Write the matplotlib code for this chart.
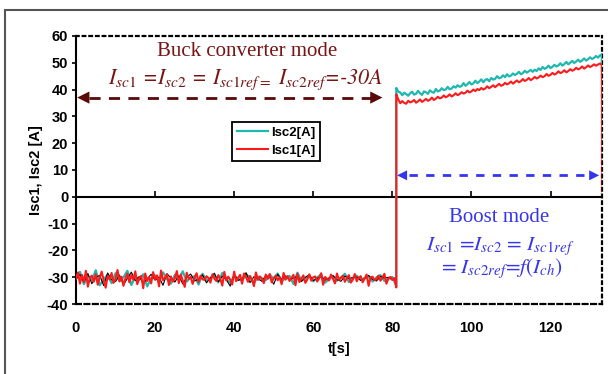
import numpy as np
import matplotlib
matplotlib.use("Agg")
import matplotlib.pyplot as plt
from matplotlib.patches import Rectangle

plt.rcParams['font.family'] = ['Liberation Sans', 'DejaVu Sans']
plt.rcParams['mathtext.fontset'] = 'stix'
plt.rcParams['axes.unicode_minus'] = False

# ---- data ----
t_buck_start, t_buck_step = 0.0, 0.5
isc1_buck = [
    -30.5, -28.2, -32.4, -29.1, -31.8, -27.6, -33.5, -30.2, -29.4, -31.7,
    -28.9, -32.8, -30.1, -27.9, -31.2, -33.9, -29.6, -30.8, -28.4, -32.1,
    -30.6, -27.3, -31.5, -29.8, -33.2, -30.4, -28.7, -31.9, -29.2, -30.9,
    -27.8, -32.6, -30.3, -29.5, -34.1, -28.6, -31.4, -30.0, -32.3, -28.1,
    -30.7, -29.3, -33.4, -27.5, -31.1, -30.2, -28.8, -32.9, -29.7, -31.6,
    -30.4, -27.7, -32.2, -29.0, -31.3, -33.6, -28.3, -30.6, -29.9, -32.5,
    -30.1, -28.5, -31.8, -29.4, -30.8, -31.0, -29.6, -30.3, -32.0, -28.9,
    -30.5, -31.4, -29.2, -30.7, -33.1, -28.0, -31.2, -29.8, -30.9, -32.7,
    -27.9, -31.5, -30.2, -29.1, -32.4, -28.6, -30.0, -31.7, -29.5, -30.8,
    -33.3, -28.2, -31.0, -29.7, -30.4, -32.2, -29.0, -30.6, -28.8, -31.9,
    -30.3, -29.4, -31.1, -30.0, -32.6, -28.4, -30.9, -29.6, -31.4, -30.2,
    -29.1, -33.0, -28.7, -31.8, -30.5, -29.3, -32.1, -30.8, -28.9, -31.3,
    -30.0, -29.7, -31.6, -30.4, -28.5, -32.8, -29.9, -30.6, -31.2, -29.0,
    -30.7, -32.3, -28.6, -31.0, -30.1, -29.5, -31.7, -30.3, -29.2, -32.0,
    -30.9, -28.8, -31.5, -30.2, -29.6, -31.9, -30.4, -29.0, -33.2, -30.0,
    -29.8, -31.1, -30.6, -29.4, -31.3, -30.1, -28.7, -32.4, -30.5, -29.9,
    -31.0, -30.3, -33.8,
]

t_ref_step = 1.0
isc2_buck = [
    -30.2, -28.0, -32.6, -29.5, -31.2, -27.4, -33.0, -30.8, -29.0, -32.2,
    -28.5, -31.5, -30.0, -27.6, -32.9, -29.8, -31.0, -28.9, -33.4, -30.4,
    -29.3, -31.8, -28.2, -30.6, -32.4, -29.1, -30.9, -27.8, -31.6, -30.1,
    -29.6, -32.7, -28.7, -31.3, -30.3, -29.2, -31.9, -28.4, -30.7, -32.1,
    -29.4, -30.5, -31.4, -28.8, -30.2, -32.3, -29.7, -30.8, -31.1, -29.0,
    -30.6, -28.6, -31.7, -30.0, -29.5, -32.5, -28.3, -31.2, -30.4, -29.3,
    -31.5, -30.1, -28.9, -32.0, -30.7, -29.6, -31.3, -30.2, -28.7, -31.8,
    -30.5, -29.4, -31.0, -30.3, -29.8, -31.6, -30.0, -29.2, -31.4, -30.6,
    -29.9, -33.2,
]
iref_buck = [
    -30.8, -29.0, -31.9, -28.6, -32.4, -30.1, -29.3, -33.1, -28.4, -30.9,
    -31.6, -29.2, -32.8, -30.4, -28.1, -31.3, -29.7, -32.2, -30.6, -28.9,
    -31.1, -29.9, -33.0, -28.7, -30.3, -31.8, -29.4, -32.5, -30.0, -28.8,
    -31.4, -30.7, -29.1, -32.1, -30.2, -28.5, -31.7, -29.6, -30.9, -33.3,
    -29.0, -31.2, -30.5, -28.3, -32.0, -29.8, -30.6, -31.5, -29.3, -30.1,
    -32.6, -28.9, -30.8, -29.5, -31.0, -30.3, -29.7, -31.6, -30.0, -29.1,
    -31.3, -30.4, -29.8, -31.1, -30.2, -29.4, -30.9, -31.5, -29.6, -30.5,
    -30.1, -29.9, -31.2, -30.6, -29.3, -30.8, -31.4, -29.7, -30.3, -30.0,
    -31.0, -30.4,
]

t_boost_start, t_boost_step = 81.0, 0.5
isc2_boost = [
    40.6, 39.2, 38.9, 37.9, 38.8, 38.3, 37.7, 38.6, 39.2, 38.1,
    38.4, 39.5, 38.6, 38.0, 39.3, 39.0, 38.4, 39.7, 39.1, 38.8,
    40.2, 39.3, 39.6, 40.5, 39.8, 40.0, 41.0, 40.1, 40.4, 41.2,
    40.7, 41.6, 41.0, 41.3, 42.4, 41.4, 42.0, 42.8, 41.9, 42.3,
    43.3, 42.4, 43.0, 43.8, 42.7, 43.6, 43.9, 43.1, 44.3, 43.7,
    44.0, 45.0, 44.2, 44.5, 45.3, 44.6, 45.7, 44.9, 45.2, 46.0,
    45.4, 45.9, 46.6, 45.7, 46.1, 47.0, 46.3, 46.8, 47.3, 46.6,
    47.4, 46.9, 47.9, 47.3, 48.4, 47.7, 48.1, 48.9, 48.0, 48.5,
    49.2, 48.6, 49.0, 49.8, 48.9, 49.5, 50.3, 49.4, 50.0, 50.7,
    49.9, 50.5, 51.1, 50.3, 50.9, 51.6, 50.8, 51.3, 52.0, 51.4,
    51.8, 52.5, 51.9, 52.7, 53.1,
]
isc1_boost = [
    38.2, 36.3, 34.9, 35.7, 35.0, 34.7, 35.8, 35.2, 35.5, 36.1,
    35.1, 35.6, 36.3, 35.4, 35.9, 36.5, 35.8, 36.2, 37.0, 36.1,
    36.6, 37.3, 36.7, 37.0, 37.8, 37.1, 37.5, 38.2, 37.4, 37.9,
    38.6, 37.9, 38.3, 39.0, 38.5, 38.8, 39.6, 38.9, 39.3, 40.0,
    39.4, 40.2, 39.8, 40.6, 40.0, 40.4, 41.2, 40.5, 41.0, 41.6,
    40.9, 41.5, 42.1, 41.4, 41.7, 42.5, 41.9, 42.3, 43.0, 42.2,
    42.8, 43.4, 42.7, 43.1, 43.9, 43.2, 43.6, 44.3, 43.5, 44.0,
    44.7, 44.1, 44.5, 45.2, 44.6, 45.0, 45.8, 45.1, 45.5, 46.2,
    45.6, 46.0, 46.8, 46.1, 46.5, 47.2, 46.4, 46.9, 47.6, 47.0,
    47.4, 48.1, 47.5, 47.9, 48.6, 47.8, 48.3, 49.0, 48.4, 48.8,
    49.4, 48.9, 49.3, 49.7, 49.2,
]
t_drop = 133.2
isc1_drop = 1.0
isc2_drop = 20.0

x_ticks = [0, 20, 40, 60, 80, 100, 120]
y_ticks = [-40, -30, -20, -10, 0, 10, 20, 30, 40, 50, 60]

# ---- build time axes ----
t_buck = t_buck_start + t_buck_step * np.arange(len(isc1_buck))
t_ref = t_buck_start + t_ref_step * np.arange(len(isc2_buck))
t_boost = t_boost_start + t_boost_step * np.arange(len(isc1_boost))

t1 = np.concatenate([t_buck, t_boost, [t_drop]])
y1 = np.concatenate([isc1_buck, isc1_boost, [isc1_drop]])
t2 = np.concatenate([t_ref, t_boost, [t_drop]])
y2 = np.concatenate([isc2_buck, isc2_boost, [isc2_drop]])

cyan = '#1fb8b0'
red = '#ff1a1a'
dark_red = '#7a1414'
arrow_red = '#5a0808'
blue = '#3535f0'

fig = plt.figure(figsize=(6.08, 3.74), dpi=100)
ax = fig.add_axes([0.125, 0.187, 0.865, 0.717])

ax.plot(t2, y2, color=cyan, lw=1.6, label='Isc2[A]', zorder=3)
ax.plot(t1, y1, color=red, lw=1.5, label='Isc1[A]', zorder=4)
ax.plot(t_ref, iref_buck, color='black', lw=0.8, zorder=3.5)

ax.set_xlim(0, 133)
ax.set_ylim(-40, 60)
ax.set_yticks(y_ticks)
ax.set_xticks(x_ticks)

ax.spines['left'].set_linewidth(1.5)
ax.spines['bottom'].set_position(('data', 0))
ax.spines['bottom'].set_linewidth(1.5)
for s in ['top', 'right']:
    ax.spines[s].set_linestyle((0, (1.2, 1.8)))
    ax.spines[s].set_linewidth(1.6)
ax.tick_params(axis='x', direction='in', length=4, width=1.2, labelbottom=False)
ax.tick_params(axis='y', direction='out', length=3, width=1.2, pad=2.5, labelsize=10.5)
for lbl in ax.get_yticklabels():
    lbl.set_fontweight('bold')

sec = ax.secondary_xaxis('bottom')
sec.set_xticks(x_ticks)
sec.tick_params(length=0, pad=12, labelsize=10.5)
for lbl in sec.get_xticklabels():
    lbl.set_fontweight('bold')
sec.spines['bottom'].set_linestyle((0, (2.2, 1.6)))
sec.spines['bottom'].set_linewidth(1.6)
sec.set_xlabel('t[s]', fontsize=10.5, fontweight='bold', labelpad=5)

ax.set_ylabel('Isc1, Isc2 [A]', fontsize=10.5, fontweight='bold', labelpad=3)

# buck mode annotations
ax.text(43.4, 54, 'Buck converter mode', color=dark_red, fontsize=15,
        family='Liberation Serif', ha='center', va='center')
ax.text(43, 43.5, r'$I_{sc1}$ =$I_{sc2}$ = $I_{sc1ref=}$ $I_{sc2ref}$=-30A',
        color=dark_red, fontsize=15.8, family='STIXGeneral', fontstyle='italic',
        ha='center', va='center')
buck_y, buck_x0, buck_x1 = 37, 0.3, 77.5
ax.plot([buck_x0 + 3, buck_x1 - 3], [buck_y, buck_y], color=arrow_red, lw=2,
        dashes=(4, 3), zorder=5)
for a, b in [(buck_x0 + 3, buck_x0), (buck_x1 - 3, buck_x1)]:
    ax.annotate('', xy=(b, buck_y), xytext=(a, buck_y),
                arrowprops=dict(arrowstyle='-|>', color=arrow_red, lw=0,
                                mutation_scale=22, shrinkA=0, shrinkB=0), zorder=5)

# boost mode annotations
ax.text(107, -7.8, 'Boost mode', color=blue, fontsize=15,
        family='Liberation Serif', ha='center', va='center')
ax.text(107.4, -18.4, r'$I_{sc1}$ =$I_{sc2}$ = $I_{sc1ref}$',
        color=blue, fontsize=15.3, family='STIXGeneral', ha='center', va='center')
ax.text(107.6, -26.6, r'= $I_{sc2ref}$=$f(I_{ch})$',
        color=blue, fontsize=15.3, family='STIXGeneral', ha='center', va='center')
boost_y, boost_x0, boost_x1 = 8, 81.2, 132.3
ax.plot([boost_x0 + 3, boost_x1 - 3], [boost_y, boost_y], color=blue, lw=2,
        dashes=(3, 3), zorder=5)
for a, b in [(boost_x0 + 3, boost_x0), (boost_x1 - 3, boost_x1)]:
    ax.annotate('', xy=(b, boost_y), xytext=(a, boost_y),
                arrowprops=dict(arrowstyle='-|>', color=blue, lw=0,
                                mutation_scale=18, shrinkA=0, shrinkB=0), zorder=5)

leg = ax.legend(loc='upper left', bbox_to_anchor=(39.5, 28), bbox_transform=ax.transData,
                fancybox=False, edgecolor='black', framealpha=1,
                prop={'family': ['Liberation Sans Narrow', 'Liberation Sans'],
                      'weight': 'bold', 'size': 9.5},
                handlelength=2.4, handletextpad=0.2, borderpad=0.35, labelspacing=0.45,
                borderaxespad=0)
leg.get_frame().set_linewidth(1.3)

fig.add_artist(Rectangle((5 / 608, -0.2), 1.2, 1.2 - 10 / 374, transform=fig.transFigure,
                         fill=False, edgecolor='#555555', lw=1.5, clip_on=False))

fig.savefig('out.png', dpi=100)
